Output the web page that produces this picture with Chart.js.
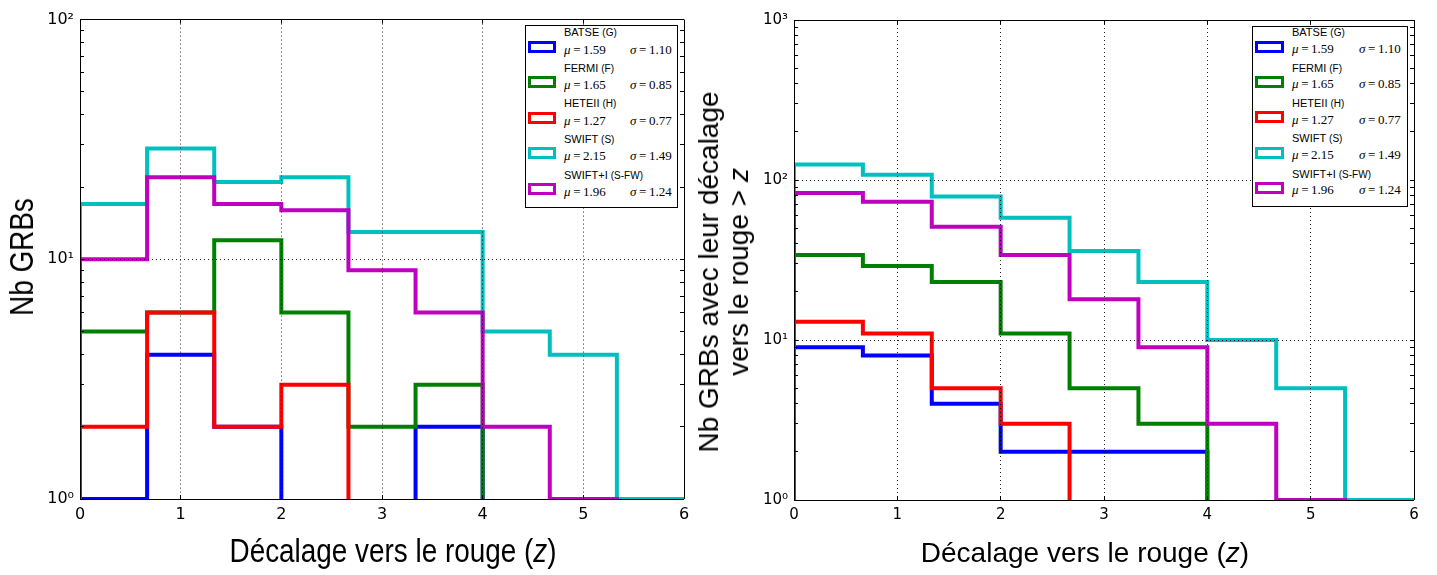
<!DOCTYPE html>
<html>
<head>
<meta charset="utf-8">
<script src="https://cdn.jsdelivr.net/npm/chart.js@4.4.1/dist/chart.umd.min.js"></script>
<style>
html,body{margin:0;padding:0;background:#fff;}
#wrap{position:relative;width:1437px;height:575px;overflow:hidden;background:#fff;}
canvas{position:absolute;top:0;}
.t{position:absolute;white-space:nowrap;color:#000;font-family:'Liberation Sans',Arial,sans-serif;}
.legend{position:absolute;border:1px solid #000;background:#fff;box-sizing:border-box;}
.sw{position:absolute;box-sizing:border-box;border:3px solid;background:#fff;}
.nm{position:absolute;font-family:'Liberation Sans',Arial,sans-serif;font-size:11px;line-height:11px;white-space:nowrap;color:#000;}
.nm span{font-size:10px;}
.val{position:absolute;font-family:'Liberation Serif','DejaVu Serif',serif;font-size:13px;line-height:13px;white-space:nowrap;color:#000;}
</style>
</head>
<body>
<div id="wrap">
<canvas id="c1" width="715" height="575" style="left:0"></canvas>
<canvas id="c2" width="722" height="575" style="left:715px"></canvas>
</div>
<script>
// ---------- data ----------
const binEdges = [0, 0.6667, 1.3333, 2, 2.6667, 3.3333, 4, 4.6667, 5.3333, 6];
const seriesNames = ['BATSE', 'FERMI', 'HETEII', 'SWIFT', 'SWIFT+I'];
const seriesTags = ['(G)', '(F)', '(H)', '(S)', '(S-FW)'];
const seriesMu = ['1.59', '1.65', '1.27', '2.15', '1.96'];
const seriesSigma = ['1.10', '0.85', '0.77', '1.49', '1.24'];
const seriesColors = ['#0000ff', '#008000', '#ff0000', '#00bfbf', '#bf00bf'];

// left panel: number of GRBs per redshift bin
const countsBATSE  = [1, 4, 2, 0, 0, 2, 0, 0, 0];
const countsFERMI  = [5, 6, 12, 6, 2, 3, 0, 0, 0];
const countsHETEII = [2, 6, 2, 3, 0, 0, 0, 0, 0];
const countsSWIFT  = [17, 29, 21, 22, 13, 13, 5, 4, 1];
const countsSWIFTI = [10, 22, 17, 16, 9, 6, 2, 1, 0];

// right panel: number of GRBs with redshift > z
const aboveBATSE  = [9, 8, 4, 2, 2, 2, 0, 0, 0];
const aboveFERMI  = [34, 29, 23, 11, 5, 3, 0, 0, 0];
const aboveHETEII = [13, 11, 5, 3, 0, 0, 0, 0, 0];
const aboveSWIFT  = [125, 108, 79, 58, 36, 23, 10, 5, 1];
const aboveSWIFTI = [83, 73, 51, 34, 18, 9, 3, 1, 0];

const xTickLabels = ['0', '1', '2', '3', '4', '5', '6'];
const yTickLabelsLeft = ['10\u2070', '10\u00b9', '10\u00b2'];
const yTickLabelsRight = ['10\u2070', '10\u00b9', '10\u00b2', '10\u00b3'];
const xTitleText = 'Décalage vers le rouge (';
const yTitleLeftText = 'Nb GRBs';
const yTitleRightLines = ['Nb GRBs avec leur décalage', 'vers le rouge &gt; '];

// ---------- helpers ----------
const LOG_FLOOR = 0.01; // empty bins are clipped below the log axis (as matplotlib does)
function stepPoints(counts) {
  const v = c => (c > 0 ? c : LOG_FLOOR);
  const pts = [{x: binEdges[0], y: LOG_FLOOR}];
  counts.forEach((c, i) => pts.push({x: binEdges[i], y: v(c)}));
  pts.push({x: binEdges[binEdges.length - 1], y: LOG_FLOOR});
  return pts;
}
function makeDatasets(list) {
  return list.map((counts, i) => ({
    label: seriesNames[i],
    data: stepPoints(counts),
    borderColor: seriesColors[i],
    backgroundColor: seriesColors[i],
    borderWidth: 4,
    stepped: true,
    pointRadius: 0,
    pointHoverRadius: 0,
    fill: false,
    tension: 0,
    clip: 0,
    order: list.length - 1 - i,
    borderJoinStyle: 'miter',
    borderCapStyle: 'butt'
  }));
}
function isDecade(v) {
  if (!v) return false;
  const e = Math.log10(v);
  return Math.abs(e - Math.round(e)) < 1e-6;
}
const GRID = 'rgba(0,0,0,0.85)';
const FRAME = '#000';
function yScale(pos, maxExp, labels, fontSize, padding, width) {
  const main = pos === 'left';
  const top = Math.pow(10, maxExp);
  const isEdge = v => Math.abs(v - 1) < 1e-9 || Math.abs(v - top) < 1e-6;
  return {
    type: 'logarithmic', axis: 'y', position: pos, min: 1, max: top,
    afterBuildTicks: s => {
      const t = [];
      for (let e = 0; e < maxExp; e++) for (let m = 1; m < 10; m++) t.push({value: m * Math.pow(10, e), major: m === 1});
      t.push({value: top, major: true});
      s.ticks = t;
    },
    afterFit: s => { s.width = width; },
    ticks: {
      display: main, autoSkip: false, maxRotation: 0, minRotation: 0, padding: padding, color: '#000',
      font: {family: "'DejaVu Sans', sans-serif", size: fontSize},
      callback: v => (isDecade(v) ? labels[Math.round(Math.log10(v))] : '')
    },
    grid: {
      display: true, drawOnChartArea: main,
      color: ctx => {
        const v = ctx.tick ? ctx.tick.value : 0;
        if (isEdge(v)) return FRAME;
        return isDecade(v) ? GRID : 'rgba(0,0,0,0)';
      },
      lineWidth: 1, tickLength: -4, tickColor: '#000', tickWidth: 1, z: 1
    },
    border: {display: false, dash: ctx => (ctx.tick && isEdge(ctx.tick.value) ? [] : [1, 3])}
  };
}
function xScale(pos, fontSize, padding, height) {
  const main = pos === 'bottom';
  const isEdge = v => v === 0 || v === 6;
  return {
    type: 'linear', axis: 'x', position: pos, min: 0, max: 6,
    afterBuildTicks: s => { s.ticks = xTickLabels.map((l, i) => ({value: i})); },
    afterFit: s => { s.height = height; },
    ticks: {
      display: main, autoSkip: false, maxRotation: 0, minRotation: 0, padding: padding, color: '#000',
      font: {family: "'DejaVu Sans', sans-serif", size: fontSize},
      callback: v => (xTickLabels[Math.round(v)] !== undefined ? xTickLabels[Math.round(v)] : '')
    },
    grid: {
      display: true, drawOnChartArea: main,
      color: ctx => (ctx.tick && isEdge(ctx.tick.value) ? FRAME : GRID),
      lineWidth: 1, tickLength: -4, tickColor: '#000', tickWidth: 1, z: 1
    },
    border: {display: false, dash: ctx => (ctx.tick && isEdge(ctx.tick.value) ? [] : [1, 3])}
  };
}
function makeChart(id, datasets, cfg) {
  return new Chart(document.getElementById(id), {
    type: 'line',
    data: {datasets: datasets},
    options: {
      responsive: false, animation: false, devicePixelRatio: 1, events: [],
      layout: {padding: 0},
      plugins: {legend: {display: false}, tooltip: {enabled: false}, title: {display: false}},
      scales: {
        x: xScale('bottom', cfg.tickFont, cfg.xPad, cfg.bottomH),
        x2: xScale('top', cfg.tickFont, 0, cfg.topH),
        y: yScale('left', cfg.maxExp, cfg.yLabels, cfg.tickFont, cfg.yPad, cfg.leftW),
        y2: yScale('right', cfg.maxExp, cfg.yLabels, cfg.tickFont, 0, cfg.rightW)
      }
    }
  });
}

// ---------- charts ----------
const chartL = makeChart('c1',
  makeDatasets([countsBATSE, countsFERMI, countsHETEII, countsSWIFT, countsSWIFTI]),
  {tickFont: 16, xPad: 10, yPad: 10, bottomH: 76, topH: 17, leftW: 80, rightW: 31, maxExp: 2, yLabels: yTickLabelsLeft});
const chartR = makeChart('c2',
  makeDatasets([aboveBATSE, aboveFERMI, aboveHETEII, aboveSWIFT, aboveSWIFTI]),
  {tickFont: 15, xPad: 10, yPad: 10, bottomH: 75, topH: 20, leftW: 79, rightW: 23, maxExp: 3, yLabels: yTickLabelsRight});

// ---------- HTML legend built from the chart datasets ----------
const wrap = document.getElementById('wrap');
function buildLegend(chart, offsetX, g) {
  const a = chart.chartArea;
  const box = document.createElement('div');
  box.className = 'legend';
  box.style.left = (offsetX + a.right - g.gapR - g.w) + 'px';
  box.style.top = (a.top + g.gapT) + 'px';
  box.style.width = g.w + 'px';
  box.style.height = g.h + 'px';
  chart.data.datasets.forEach((ds, i) => {
    const y0 = i * g.pitch;
    const sw = document.createElement('div');
    sw.className = 'sw';
    sw.style.borderColor = ds.borderColor;
    sw.style.left = g.swX + 'px'; sw.style.top = (y0 + g.swY) + 'px';
    sw.style.width = g.swW + 'px'; sw.style.height = '12px';
    box.appendChild(sw);
    const nm = document.createElement('div');
    nm.className = 'nm';
    nm.style.left = g.nameX + 'px'; nm.style.top = (y0 + g.nameY) + 'px';
    nm.innerHTML = ds.label + ' <span>' + seriesTags[i] + '</span>';
    box.appendChild(nm);
    const mu = document.createElement('div');
    mu.className = 'val';
    mu.style.left = g.nameX + 'px'; mu.style.top = (y0 + g.valY) + 'px';
    mu.innerHTML = '<i>\u03bc</i>\u2009=\u2009' + seriesMu[i];
    box.appendChild(mu);
    const sg = document.createElement('div');
    sg.className = 'val';
    sg.style.left = g.sigX + 'px'; sg.style.top = (y0 + g.valY) + 'px';
    sg.innerHTML = '<i>\u03c3</i>\u2009=\u2009' + seriesSigma[i];
    box.appendChild(sg);
  });
  wrap.appendChild(box);
}
buildLegend(chartL, 0, {w: 153, h: 183, gapR: 6, gapT: 5, pitch: 35.6, swX: 2, swY: 15, swW: 28, nameX: 38, nameY: 1.7, valY: 17, sigX: 104});
buildLegend(chartR, 715, {w: 156, h: 181, gapR: 6, gapT: 6, pitch: 35.3, swX: 2, swY: 13.7, swW: 29, nameX: 39, nameY: 0.4, valY: 15, sigX: 106});

// ---------- axis titles ----------
function addText(html, css) {
  const d = document.createElement('div');
  d.className = 't';
  d.innerHTML = html;
  Object.assign(d.style, css);
  wrap.appendChild(d);
  return d;
}
// left panel
addText(xTitleText + '<i>z</i>)', {left: '393px', top: '533px', fontSize: '34px', lineHeight: '34px', transform: 'translateX(-50%) scaleX(0.82)'});
addText(yTitleLeftText, {left: '21px', top: '257px', fontSize: '34px', lineHeight: '34px', transform: 'translate(-50%,-50%) rotate(-90deg) scaleX(0.82)'});
// right panel
addText(xTitleText + '<i>z</i>)', {left: '1085px', top: '539px', fontSize: '28px', lineHeight: '28px', transform: 'translateX(-50%)'});
addText(yTitleRightLines[0] + '<br>' + yTitleRightLines[1] + '<i>z</i>', {left: '724px', top: '272px', fontSize: '28px', lineHeight: '30px', textAlign: 'center', transform: 'translate(-50%,-50%) rotate(-90deg)'});
</script>
</body>
</html>
